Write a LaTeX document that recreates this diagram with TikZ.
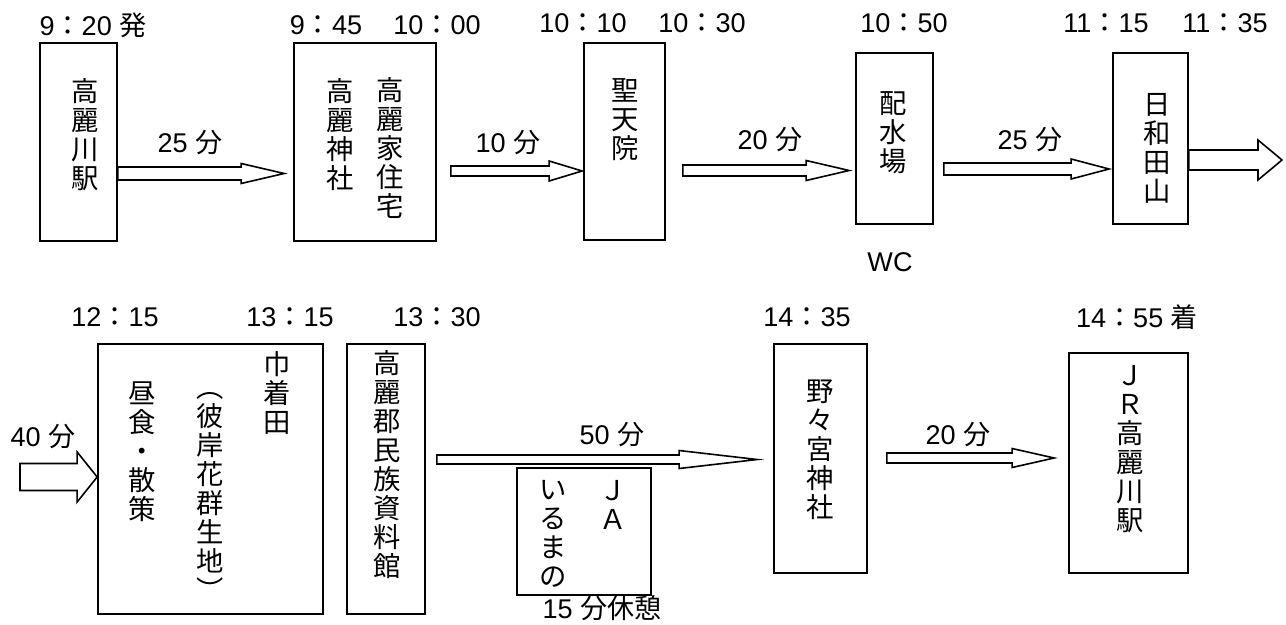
\documentclass[tikz,border=0pt]{standalone}
\usepackage{fontspec}
\setmainfont{Liberation Sans}
\newfontfamily\jp{Noto Sans CJK JP}
\usetikzlibrary{calc,fit}

\newcommand\pxu{0.75pt}
\newcommand\jikan[2]{#1{\jp ：}#2}
\newcommand\minu[1]{#1 {\jp 分}}
% hollow block arrow: from, to, y, tail gap, tip gap, shaft half, head half, head length
\newcommand\blockarr[8]{%
  \draw[blk] let \p1=(#1), \p2=(#2), \p3=(0,#3) in
    ({\x1+#4*\pxu},{\y3+#6*\pxu}) -- ({\x2-(#5+#8)*\pxu},{\y3+#6*\pxu})
    -- ({\x2-(#5+#8)*\pxu},{\y3+#7*\pxu}) -- ({\x2-#5*\pxu},\y3)
    -- ({\x2-(#5+#8)*\pxu},{\y3-#7*\pxu}) -- ({\x2-(#5+#8)*\pxu},{\y3-#6*\pxu})
    -- ({\x1+#4*\pxu},{\y3-#6*\pxu}) -- cycle;}

\tikzset{
  stop/.style={draw,line width=1.3pt,inner sep=0pt},
  tate/.style={font=\jp\fontsize{20.5}{21.75}\selectfont,align=center,inner sep=0pt},
  lbl/.style={font=\fontsize{20.3}{22}\selectfont,inner sep=0pt},
  blk/.style={draw,line width=1.2pt,line join=miter},
}

\begin{document}
\begin{tikzpicture}[x=0.75pt,y=-0.75pt]
\useasboundingbox (0,0) rectangle (1286,625);
% upper row
\node[stop,fit={(40,43)(117,241)}] (kawa) {};
\node[stop,fit={(294,43)(436,241)}] (jinja) {};
\node[stop,fit={(584,43)(665,240)}] (shoten) {};
\node[stop,fit={(856,53)(933,224)}] (haisui) {};
\node[stop,fit={(1113,53)(1188,224)}] (hiwada) {};
\node[tate] (kawat) at (85,134.5) {高\\麗\\川\\駅};
\node[tate] (jinjat) at (390,148.5) {高\\麗\\家\\住\\宅};
\node[tate] (jinjas) at (340,134.5) {高\\麗\\神\\社};
\node[tate] (shotent) at (625,119.5) {聖\\天\\院};
\node[tate] (haisuit) at (893,132.5) {配\\水\\場};
\node[tate] (hiwadat) at (1157,148.5) {日\\和\\田\\山};
% lower row
\node[stop,fit={(98,344)(323,614)}] (hiru) {};
\node[stop,fit={(347,344)(425,614)}] (shiryo) {};
\node[stop,fit={(517,468)(651,595)}] (ja) {};
\node[stop,fit={(774,344)(867,573)}] (nonomiya) {};
\node[stop,fit={(1069,353)(1188,573)}] (jr) {};
\node[tate] (kinchaku) at (277,393) {巾\\着\\田};
\node[tate] (higan) at (210,496) {︵\\彼\\岸\\花\\群\\生\\地\\︶};
\node[tate] (hirut) at (142,452) {昼\\食\\・\\散\\策};
\node[tate] (shiryot) at (387,465) {高\\麗\\郡\\民\\族\\資\\料\\館};
\node[tate] (jat) at (613,505) {Ｊ\\Ａ};
\node[tate] (jas) at (553,533.5) {い\\る\\ま\\の};
\node[tate] (nonomiyat) at (820,450) {野\\々\\宮\\神\\社};
\node[tate] (jrt) at (1130,449.5) {Ｊ\\Ｒ\\高\\麗\\川\\駅};
% times
\node[lbl] (z1) at (93,25) {\jikan{9}{20} {\jp 発}};
\node[lbl] (z2) at (326,25) {\jikan{9}{45}};
\node[lbl] (z3) at (437,25) {\jikan{10}{00}};
\node[lbl] (z4) at (583,23) {\jikan{10}{10}};
\node[lbl] (z5) at (702,23) {\jikan{10}{30}};
\node[lbl] (z6) at (904,23) {\jikan{10}{50}};
\node[lbl] (z7) at (1106,23) {\jikan{11}{15}};
\node[lbl] (z8) at (1225,23) {\jikan{11}{35}};
\node[lbl] (z9) at (115,317) {\jikan{12}{15}};
\node[lbl] (z10) at (290,317) {\jikan{13}{15}};
\node[lbl] (z11) at (437,317) {\jikan{13}{30}};
\node[lbl] (z12) at (807,317) {\jikan{14}{35}};
\node[lbl] (z13) at (1137,317) {\jikan{14}{55} {\jp 着}};
% walking times
\node[lbl] (m1) at (190,143) {\minu{25}};
\node[lbl] (m2) at (508,143) {\minu{10}};
\node[lbl] (m3) at (770,140) {\minu{20}};
\node[lbl] (m4) at (1030,140) {\minu{25}};
\node[lbl] (m5) at (43,437) {\minu{40}};
\node[lbl] (m6) at (612,435) {\minu{50}};
\node[lbl] (m7) at (958,435) {\minu{20}};
\node[lbl] (kyukei) at (602,608) {15 {\jp 分休憩}};
\node[lbl] (wc) at (890,262) {WC};
% arrows
\coordinate (tsugi) at (1282,160);
\coordinate (mae) at (20,477);
\blockarr{kawa.east}{jinja.west}{173.5}{0}{9}{6.5}{10}{43}
\blockarr{jinja.east}{shoten.west}{171}{14}{1}{5}{10}{33}
\blockarr{shoten.east}{haisui.west}{170.5}{17}{6}{5.5}{10}{43}
\blockarr{haisui.east}{hiwada.west}{169}{10}{3}{6}{10}{38}
\blockarr{hiwada.east}{tsugi}{160}{0}{0}{10}{20}{24}
\blockarr{mae}{hiru.west}{477}{0}{0}{13.5}{25}{20}
\blockarr{shiryo.east}{nonomiya.west}{459.5}{11}{16}{4.5}{9}{78}
\blockarr{nonomiya.east}{jr.west}{458}{19}{14}{5}{9.5}{42}
\end{tikzpicture}
\end{document}
